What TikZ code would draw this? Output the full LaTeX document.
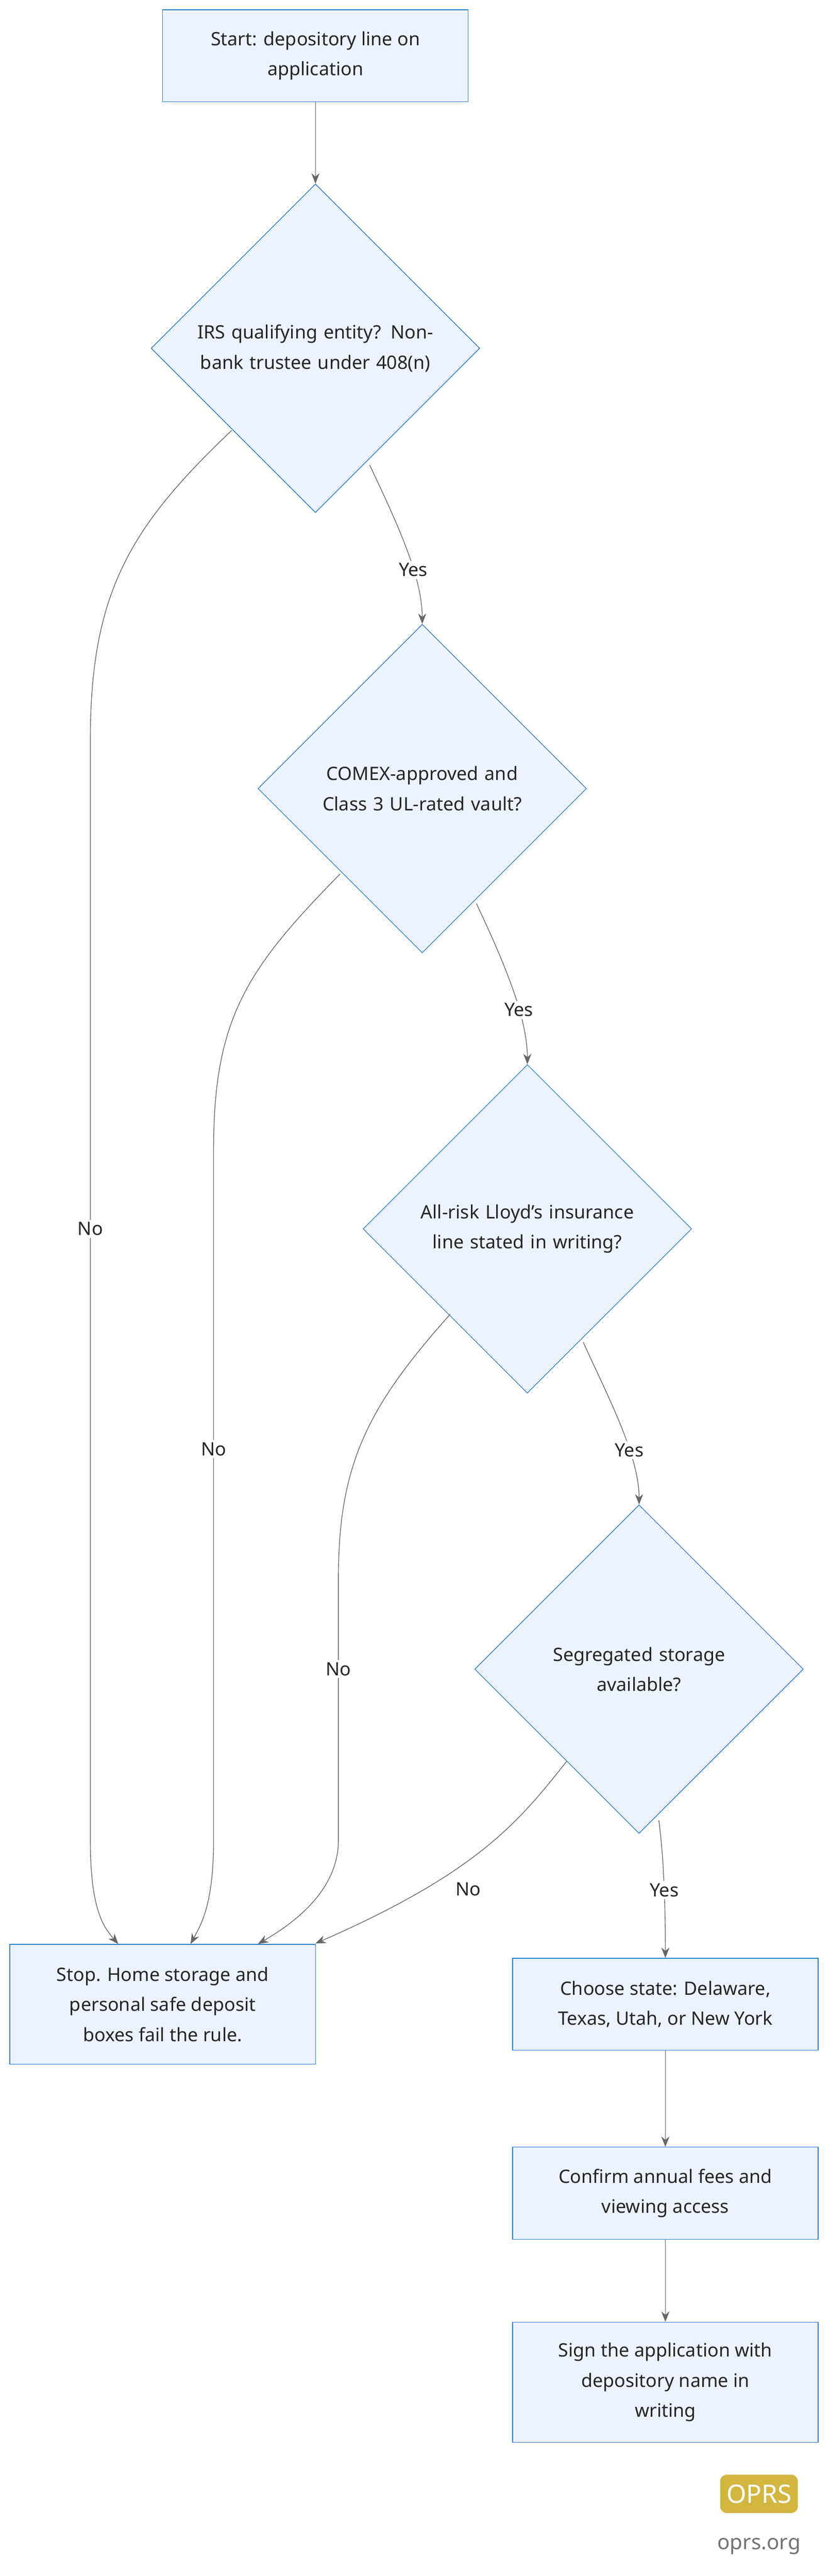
\documentclass[tikz,border=0pt]{standalone}
\usepackage{fontspec}
\setmainfont{Noto Sans}
\usetikzlibrary{shapes.geometric,arrows.meta}
\definecolor{nfill}{HTML}{EDF3FC}
\definecolor{nline}{HTML}{2A7FD4}
\definecolor{eline}{HTML}{666666}
\begin{document}
\begin{tikzpicture}[x=0.5mm,y=-0.5mm,
  box/.style={draw=nline,fill=nfill,line width=0.6pt,minimum width=93mm,align=center,font=\fontsize{16}{26}\selectfont,text=black!85},
  dia/.style={draw=nline,fill=nfill,line width=0.6pt,diamond,minimum width=100mm,minimum height=100mm,inner sep=0pt,align=center,text width=80mm,font=\fontsize{16}{26}\selectfont,text=black!85},
  edge/.style={draw=eline,line width=0.6pt,-{Stealth[length=9pt,width=7pt]}},
  lab/.style={fill=white,inner sep=2pt,font=\fontsize{16}{20}\selectfont,text=black!85}]
\useasboundingbox[fill=white] (0,0) rectangle (505,1568);
\node[box,minimum height=28mm] (s) at (192,34) {Start: depository line on\\application};
\node[dia] (d1) at (192,212) {IRS qualifying entity? Non-\\bank trustee under 408(n)};
\node[dia] (d2) at (257,480) {COMEX-approved and\\Class 3 UL-rated vault?};
\node[dia] (d3) at (321,748) {All-risk Lloyd's insurance\\line stated in writing?};
\node[dia] (d4) at (389,1016) {Segregated storage\\available?};
\node[box,minimum height=36.5mm] (stop) at (99,1220) {Stop. Home storage and\\personal safe deposit\\boxes fail the rule.};
\node[box,minimum height=28mm] (c1) at (405,1220) {Choose state: Delaware,\\Texas, Utah, or New York};
\node[box,minimum height=28mm] (c2) at (405,1335) {Confirm annual fees and\\viewing access};
\node[box,minimum height=36.5mm] (c3) at (405,1450) {Sign the application with\\depository name in\\writing};
\draw[edge] (s) -- (d1);
\draw[edge] (c1) -- (c2);
\draw[edge] (c2) -- (c3);
\coordinate (y1) at (225,283); \coordinate (y2) at (290,550); \coordinate (y3) at (355,817); \coordinate (y4) at (401,1108);
\coordinate (n1) at (141,262); \coordinate (n2) at (207,532); \coordinate (n3) at (274,800); \coordinate (n4) at (345,1072);
\draw[edge] (y1) .. controls (240,315) and (257,350) .. (d2.north) node[lab,pos=0.65] {Yes};
\draw[edge] (y2) .. controls (305,582) and (321,618) .. (d3.north) node[lab,pos=0.65] {Yes};
\draw[edge] (y3) .. controls (370,850) and (389,886) .. (d4.north) node[lab,pos=0.65] {Yes};
\draw[edge] (y4) .. controls (404,1130) and (405,1160) .. (c1.north) node[lab,pos=0.55] {Yes};
\draw[edge] (n1) .. controls (80,320) and (55,360) .. (55,450) -- (55,1120) .. controls (55,1160) and (62,1172) .. (stop.north -| 72,0);
\node[lab] at (55,748) {No};
\draw[edge] (n2) .. controls (150,590) and (130,620) .. (130,700) -- (130,1120) .. controls (130,1160) and (122,1172) .. (stop.north -| 116,0);
\node[lab] at (130,882) {No};
\draw[edge] (n3) .. controls (225,855) and (206,890) .. (206,960) -- (206,1120) .. controls (206,1150) and (180,1170) .. (stop.north -| 157,0);
\node[lab] at (206,1016) {No};
\draw[edge] (n4) .. controls (315,1110) and (290,1140) .. (192,1183);
\node[lab] at (285,1150) {No};
\node[draw=white,line width=1pt,fill=black!15!yellow!55!brown,rounded corners=6pt,minimum width=24mm,minimum height=12mm,font=\bfseries\fontsize{22}{22}\selectfont,text=white] (logo) at (462,1518) {OPRS};
\node[font=\bfseries\fontsize{18}{20}\selectfont,text=black!55] (url) at (462,1550) {oprs.org};
\end{tikzpicture}
\end{document}
